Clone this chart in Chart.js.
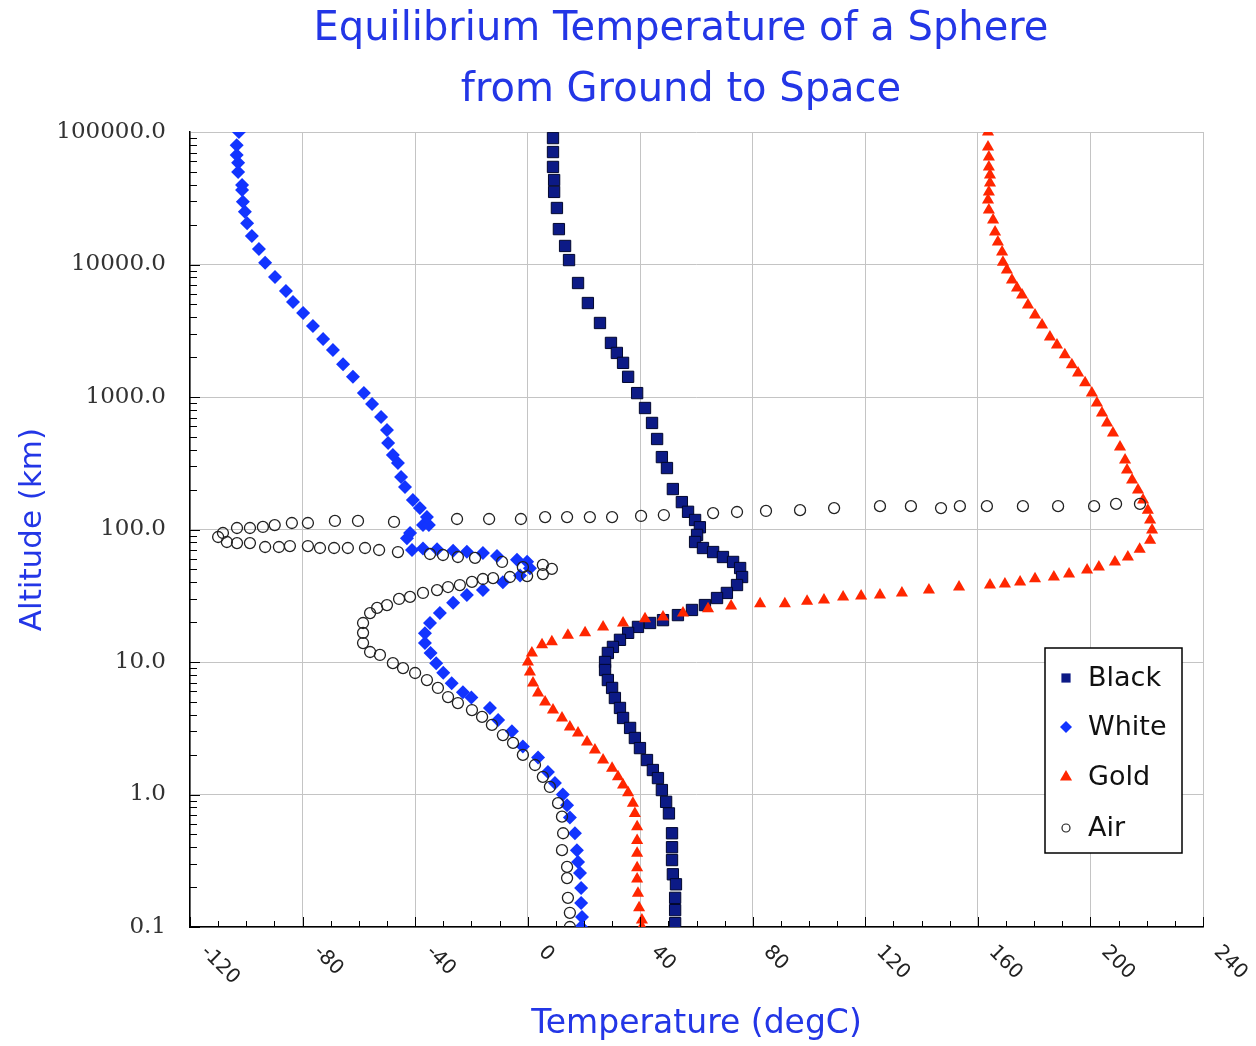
<!DOCTYPE html>
<html>
<head>
<meta charset="utf-8">
<script src="https://cdn.jsdelivr.net/npm/chart.js@4.4.1/dist/chart.umd.min.js"></script>
<style>
  html, body { margin: 0; padding: 0; background: #fff; }
</style>
</head>
<body>
<canvas id="myChart" width="1256" height="1046"></canvas>
<script>
// temperatures in degC, altitudes in km
const blackTemp = [9.0, 9.0, 9.0, 9.4, 9.4, 10.4, 11.1, 13.3, 14.7, 17.9, 21.4, 25.7, 29.6, 31.7, 33.9, 35.7, 38.9, 41.7, 44.2, 46.0, 47.7, 49.5, 51.6, 54.8, 57.0, 59.5, 61.2, 60.2, 59.5, 62.3, 65.9, 69.4, 73.0, 75.5, 76.2, 74.4, 70.8, 67.3, 63.0, 58.4, 53.4, 48.1, 43.5, 39.2, 35.7, 32.8, 30.3, 28.5, 27.5, 27.5, 28.5, 30.0, 31.0, 32.8, 33.9, 36.4, 38.1, 39.9, 42.4, 44.5, 46.3, 47.7, 49.2, 50.2, 51.3, 51.3, 51.3, 51.6, 52.7, 52.4, 52.4, 52.4];
const blackAlt = [90000, 70600, 54500, 43400, 35300, 26700, 18500, 13800, 10800, 7250, 5120, 3620, 2560, 2150, 1810, 1420, 1070, 826, 637, 482, 352, 291, 202, 161, 136, 118, 104, 91, 80.5, 72.5, 67.6, 62, 56.9, 51.2, 43.8, 38.1, 33.2, 30.4, 26.9, 24.7, 22.6, 20.7, 19.7, 18.4, 16.6, 14.7, 13.0, 11.7, 10.0, 8.7, 7.31, 6.37, 5.35, 4.5, 3.78, 3.18, 2.67, 2.24, 1.82, 1.53, 1.33, 1.08, 0.88, 0.72, 0.51, 0.40, 0.32, 0.25, 0.21, 0.166, 0.134, 0.107];

const whiteTemp = [19, 19.3, 19, 19, 18.6, 17.9, 17.5, 16.8, 15, 14, 12.5, 9.7, 7.2, 3.7, -1.7, -5.6, -10.5, -13.4, -20, -23, -27, -30, -32.5, -34.5, -36.5, -36.5, -34.7, -31.2, -26.5, -21.6, -15.9, -8.8, -2.7, 0.8, -0.2, -3.8, -10.9, -15.9, -21.6, -26.5, -32.2, -37.2, -41.1, -42.9, -41.8, -37.2, -35.1, -35.8, -38.3, -40.8, -43.6, -45, -46.1, -47.9, -49.6, -50, -52.1, -55.3, -58.2, -62.1, -65.6, -69.2, -72.7, -76.3, -79.8, -83.4, -85.9, -89.8, -93.3, -95.5, -98, -99.7, -100.5, -101.2, -101.5, -101.5, -102.9, -102.9, -103.4, -103.4, -102.6];
const whiteAlt = [0.1, 0.119, 0.152, 0.197, 0.256, 0.31, 0.38, 0.51, 0.67, 0.83, 1.0, 1.22, 1.48, 1.9, 2.3, 3.0, 3.65, 4.5, 5.4, 5.9, 6.9, 8.3, 9.8, 11.7, 13.9, 16.5, 19.7, 23.4, 28, 32, 35, 40, 45, 51, 57, 59, 63, 66.5, 68, 69, 71, 72, 70, 86, 94, 108, 108, 124, 145, 167, 209, 249, 318, 365, 450, 564, 706, 885, 1070, 1420, 1770, 2260, 2740, 3440, 4300, 5210, 6300, 8050, 10300, 13100, 16400, 20500, 25000, 29700, 36500, 39800, 50000, 58500, 67000, 79400, 100000];

const goldTemp = [40.6, 40.6, 39.6, 39.2, 38.9, 38.9, 38.9, 38.9, 38.9, 38.1, 37.4, 35.7, 33.9, 32.1, 30.0, 26.8, 23.9, 21.1, 17.9, 15.0, 12.2, 9.0, 6.2, 3.7, 1.9, 0.8, 0.1, 1.5, 5.1, 8.6, 14.3, 20.4, 26.8, 33.9, 41.7, 48.1, 55.2, 64.1, 72.3, 82.6, 91.4, 99.3, 105.3, 112.1, 118.5, 125.2, 133.0, 142.6, 153.3, 164.3, 169.6, 175.0, 180.3, 187.0, 192.4, 198.8, 203.0, 208.7, 213.3, 217.5, 221.2, 221.9, 221.2, 220.4, 218.7, 216.9, 214.8, 213.0, 212.3, 210.5, 208.0, 205.9, 204.1, 202.3, 200.5, 198.1, 195.6, 193.4, 190.9, 188.1, 185.6, 182.8, 180.3, 177.8, 175.7, 173.9, 172.1, 170.3, 168.9, 168.6, 167.1, 166.1, 165.4, 163.9, 163.6, 163.9, 164.3, 164.3, 163.9, 163.9, 163.6, 163.6];
const goldAlt = [0.1, 0.113, 0.14, 0.18, 0.23, 0.28, 0.36, 0.45, 0.57, 0.72, 0.86, 1.03, 1.18, 1.36, 1.58, 1.82, 2.17, 2.49, 2.91, 3.23, 3.78, 4.34, 4.99, 5.83, 6.95, 8.4, 10.0, 11.7, 13.5, 14.2, 15.9, 16.6, 18.4, 19.7, 21.2, 21.9, 23.4, 25.2, 26.5, 27.5, 27.5, 28.8, 29.4, 31, 31.5, 32.1, 33.2, 34.9, 36.8, 38.1, 38.8, 40.2, 42.5, 43.8, 46.1, 49.5, 52.1, 56.9, 62, 71, 83, 99, 118, 140, 167, 199, 236, 281, 335, 420, 535, 637, 757, 900, 1070, 1280, 1520, 1750, 2080, 2470, 2840, 3490, 4160, 4950, 5890, 6650, 7640, 9080, 10400, 12400, 14800, 17600, 21700, 25800, 30700, 35300, 41200, 47300, 54500, 64700, 77100, 100000];

const airTemp = [15.0, 15.0, 14.3, 14.0, 14.0, 12.2, 12.6, 12.2, 10.8, 7.9, 5.4, 2.6, -1.7, -5.2, -8.8, -12.7, -16.2, -19.8, -24.8, -28.3, -31.9, -35.8, -40.0, -44.3, -47.9, -52.5, -56.0, -58.5, -58.5, -58.5, -56.0, -53.5, -50.0, -45.7, -41.8, -37.2, -32.2, -28.3, -24.1, -19.8, -15.9, -12.3, -6.3, -0.2, 5.4, 8.6, 5.4, -1.7, -9.1, -18.7, -24.8, -30.1, -34.7, -46.1, -52.8, -57.8, -63.9, -68.8, -73.8, -78.1, -84.5, -88.4, -93.3, -98.7, -103.3, -106.9, -110.0, -108.3, -103.3, -98.7, -94.1, -89.9, -83.8, -78.1, -68.5, -60.3, -47.5, -25.1, -13.7, -2.4, 6.2, 14.0, 22.1, 30.0, 40.3, 48.4, 65.9, 74.4, 84.7, 96.8, 108.9, 125.2, 136.2, 146.9, 153.6, 163.2, 176.0, 188.5, 201.3, 209.1, 217.6];
const airAlt = [0.1, 0.128, 0.166, 0.234, 0.284, 0.38, 0.51, 0.68, 0.86, 1.14, 1.36, 1.67, 1.99, 2.45, 2.81, 3.35, 3.85, 4.34, 4.9, 5.44, 6.37, 7.31, 8.26, 9.0, 9.8, 11.3, 11.9, 13.9, 16.6, 19.7, 23.4, 25.6, 26.9, 29.9, 31, 33.2, 34.9, 36.8, 38.1, 40.2, 42.3, 43, 43.8, 44.5, 46.1, 50.4, 54, 52, 56.9, 61, 62, 64.2, 65.3, 67.6, 70, 72.5, 72.5, 72.5, 72.5, 75, 75, 73.8, 73.8, 79, 79, 80.5, 87.8, 94.1, 102.6, 102.6, 104.5, 108, 112, 112, 116, 116, 114, 120, 120, 120, 124, 124, 124, 124, 126.5, 128.6, 133, 135.5, 138, 140, 145, 150, 150, 145, 150, 150, 150, 150, 150, 156, 156];

const xTicks = [-120, -80, -40, 0, 40, 80, 120, 160, 200, 240];
const yTicks = [0.1, 1, 10, 100, 1000, 10000, 100000];
const titleLines = ['Equilibrium Temperature of a Sphere', 'from Ground to Space'];
const seriesNames = ['Black', 'White', 'Gold', 'Air'];

const blue = '#2336e6';
const font = '"DejaVu Sans", sans-serif';

function pts(t, a) {
  return t.map((v, i) => ({ x: v, y: a[i] }));
}

function marker(ctx, style, x, y, r) {
  ctx.beginPath();
  if (style === 'rect') {
    ctx.rect(x - r * 0.707, y - r * 0.707, r * 1.414, r * 1.414);
  } else if (style === 'rectRot') {
    ctx.moveTo(x, y - r); ctx.lineTo(x + r, y); ctx.lineTo(x, y + r); ctx.lineTo(x - r, y);
    ctx.closePath();
  } else if (style === 'triangle') {
    ctx.moveTo(x, y - r); ctx.lineTo(x + r * 0.866, y + r * 0.5); ctx.lineTo(x - r * 0.866, y + r * 0.5);
    ctx.closePath();
  } else {
    ctx.arc(x, y, r, 0, Math.PI * 2);
  }
}

const decorations = {
  id: 'decorations',
  afterDraw(chart) {
    const ctx = chart.ctx;
    const xs = chart.scales.x, ys = chart.scales.y;
    const area = chart.chartArea;
    ctx.save();

    // title
    ctx.fillStyle = blue;
    ctx.font = '40px ' + font;
    ctx.textAlign = 'center';
    ctx.textBaseline = 'middle';
    titleLines.forEach((t, i) => ctx.fillText(t, 681, 30 + i * 61));

    // inner minor ticks
    ctx.strokeStyle = '#000';
    ctx.lineWidth = 1;
    ctx.beginPath();
    for (let v = -120; v <= 240; v += 10) {
      const px = Math.round(xs.getPixelForValue(v)) + 0.5;
      const len = v % 40 === 0 ? 10 : 6;
      ctx.moveTo(px, area.bottom);
      ctx.lineTo(px, area.bottom - len);
    }
    for (let d = 0; d < yTicks.length - 1; d++) {
      for (let k = 1; k <= 9; k++) {
        const py = Math.round(ys.getPixelForValue(yTicks[d] * k)) + 0.5;
        ctx.moveTo(area.left, py);
        ctx.lineTo(area.left + (k === 1 ? 10 : 7), py);
      }
    }
    ctx.stroke();

    // rotated x tick labels
    ctx.fillStyle = '#222';
    ctx.font = '20px ' + font;
    ctx.textAlign = 'left';
    ctx.textBaseline = 'middle';
    xTicks.forEach(v => {
      const px = xs.getPixelForValue(v);
      ctx.save();
      ctx.translate(px + 14, area.bottom + 22);
      ctx.rotate(Math.PI / 4);
      ctx.fillText(String(v), 0, 0);
      ctx.restore();
    });

    // legend box
    const lx = 1045, ly = 648, lw = 137, lh = 205;
    ctx.fillStyle = '#fff';
    ctx.fillRect(lx, ly, lw, lh);
    ctx.strokeStyle = '#000';
    ctx.lineWidth = 1.5;
    ctx.strokeRect(lx, ly, lw, lh);
    const rows = [678, 727, 777, 828];
    chart.data.datasets.forEach((ds, i) => {
      const y = rows[i];
      marker(ctx, ds.pointStyle, 1066, y, ds.legendRadius);
      if (ds.pointStyle === 'circle') {
        ctx.strokeStyle = ds.borderColor;
        ctx.lineWidth = 1.2;
        ctx.stroke();
      } else {
        ctx.fillStyle = ds.backgroundColor;
        ctx.fill();
      }
      ctx.fillStyle = '#111';
      ctx.font = '27px ' + font;
      ctx.textAlign = 'left';
      ctx.fillText(ds.label, 1088, y + 1);
    });

    ctx.restore();
  }
};

const ctx = document.getElementById('myChart');

new Chart(ctx, {
  type: 'scatter',
  data: {
    datasets: [{
      label: seriesNames[0],
      data: pts(blackTemp, blackAlt),
      pointStyle: 'rect',
      pointRadius: 8,
      backgroundColor: '#0c1a86',
      borderColor: '#02072e',
      borderWidth: 1,
      legendRadius: 6.5,
      order: 3
    }, {
      label: seriesNames[1],
      data: pts(whiteTemp, whiteAlt),
      pointStyle: 'rectRot',
      pointRadius: 7,
      backgroundColor: '#1234ff',
      borderColor: '#1234ff',
      borderWidth: 0,
      legendRadius: 6,
      order: 2
    }, {
      label: seriesNames[2],
      data: pts(goldTemp, goldAlt),
      pointStyle: 'triangle',
      pointRadius: 7,
      backgroundColor: '#ff2600',
      borderColor: '#ff2600',
      borderWidth: 0,
      legendRadius: 7,
      order: 1
    }, {
      label: seriesNames[3],
      data: pts(airTemp, airAlt),
      pointStyle: 'circle',
      pointRadius: 5.5,
      backgroundColor: 'rgba(0,0,0,0)',
      borderColor: '#222',
      borderWidth: 1.3,
      legendRadius: 4,
      order: 0
    }]
  },
  options: {
    responsive: false,
    animation: false,
    layout: {
      padding: { top: 132, right: 53, left: 0, bottom: 0 }
    },
    plugins: {
      legend: { display: false },
      tooltip: { enabled: false }
    },
    scales: {
      x: {
        type: 'linear',
        min: -120,
        max: 240,
        afterFit: scale => { scale.height = 119; },
        ticks: { display: false, stepSize: 40 },
        grid: { color: '#c4c4c4', drawTicks: false },
        border: { color: '#000', width: 1.5 },
        title: {
          display: true,
          text: 'Temperature (degC)',
          color: blue,
          font: { family: 'DejaVu Sans', size: 33 },
          padding: { top: 0, bottom: 2 }
        }
      },
      y: {
        type: 'logarithmic',
        min: 0.1,
        max: 100000,
        afterFit: scale => { scale.width = 190; },
        afterBuildTicks: scale => { scale.ticks = yTicks.map(v => ({ value: v })); },
        ticks: {
          padding: 24,
          color: '#333',
          font: { family: 'DejaVu Serif', size: 23 },
          callback: v => Number(v).toFixed(1)
        },
        grid: { color: '#c4c4c4', drawTicks: false },
        border: { color: '#000', width: 1.5 },
        title: {
          display: true,
          text: 'Altitude (km)',
          color: blue,
          font: { family: 'DejaVu Sans', size: 31 },
          padding: { top: 14, bottom: 0 }
        }
      }
    }
  },
  plugins: [decorations]
});
</script>
</body>
</html>
